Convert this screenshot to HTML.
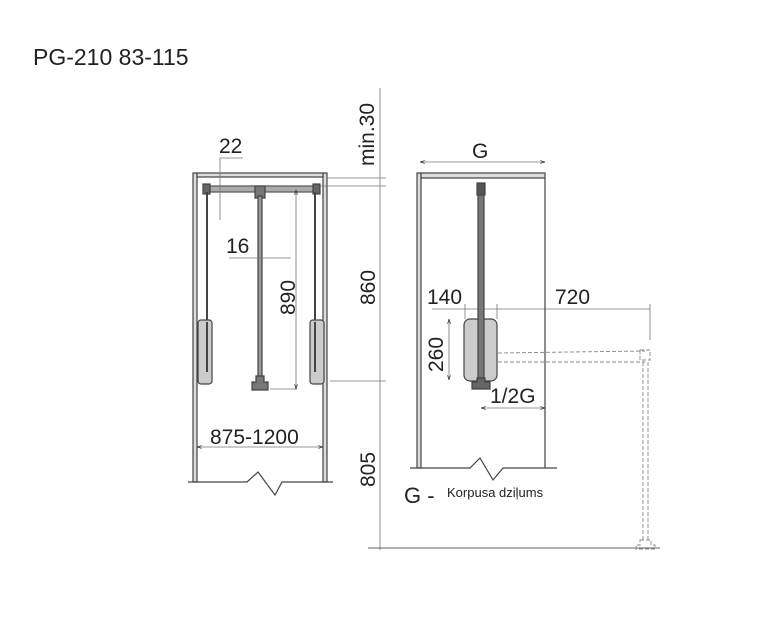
<!DOCTYPE html>
<html><head><style>body{margin:0;background:#fff}svg{display:block}text{font-family:"Liberation Sans",sans-serif;fill:#222}</style></head><body>
<svg width="761" height="630" viewBox="0 0 761 630" xmlns="http://www.w3.org/2000/svg">
<defs><marker id="a" viewBox="0 0 10 10" refX="10" refY="5" markerWidth="6" markerHeight="6" orient="auto-start-reverse"><path d="M0,2 L10,5 L0,8" fill="none" stroke="#333" stroke-width="1.5"/></marker></defs>
<text x="33" y="65" font-size="23">PG-210 83-115</text>
<g stroke="#444" fill="none" stroke-width="1.2">
<rect x="193" y="173" width="4" height="309" fill="#ddd"/>
<rect x="323" y="173" width="4" height="309" fill="#ddd"/>
<rect x="197" y="173" width="126" height="4" fill="#ddd"/>
<polyline points="188,482 247,482 258,472 275,495 282,482 333,482"/>
<rect x="206" y="186" width="112" height="6" fill="#aaa" stroke="#555"/>
<rect x="203" y="184" width="7" height="10" fill="#666"/>
<rect x="313" y="184" width="7" height="10" fill="#666"/>
<rect x="255" y="186" width="10" height="12" fill="#777"/>
<rect x="258" y="196" width="4" height="180" fill="#999"/>
<path d="M256,376h8v6h4v8h-16v-8h4z" fill="#777"/>
<line x1="207" y1="192" x2="207" y2="370" stroke-width="2"/>
<line x1="315" y1="192" x2="315" y2="370" stroke-width="2"/>
<rect x="198" y="320" width="14" height="64" rx="3" fill="#ccc"/>
<rect x="310" y="320" width="14" height="64" rx="3" fill="#ccc"/>
<line x1="207" y1="322" x2="207" y2="372" stroke-width="2"/>
<line x1="315" y1="322" x2="315" y2="372" stroke-width="2"/>
</g>
<g stroke="#777" stroke-width="0.8" fill="none">
<polyline points="243,158 220,158 220,220"/>
<line x1="229" y1="258" x2="291" y2="258"/>
<line x1="270" y1="389" x2="297" y2="389"/>
<line x1="296" y1="190" x2="296" y2="389" marker-start="url(#a)" marker-end="url(#a)"/>
<line x1="197" y1="447" x2="323" y2="447" marker-start="url(#a)" marker-end="url(#a)"/>
<line x1="380" y1="88" x2="380" y2="550"/>
<line x1="327" y1="178" x2="386" y2="178"/>
<line x1="320" y1="186" x2="386" y2="186"/>
<line x1="330" y1="381" x2="386" y2="381"/>
<line x1="368" y1="548" x2="660" y2="548" stroke="#333"/>
<line x1="420" y1="162" x2="545" y2="162" marker-start="url(#a)" marker-end="url(#a)"/>
<line x1="432" y1="309" x2="650" y2="309"/>
<line x1="449" y1="319" x2="449" y2="380" marker-start="url(#a)" marker-end="url(#a)"/>
<line x1="481" y1="408" x2="545" y2="408" marker-start="url(#a)" marker-end="url(#a)"/>
<line x1="465" y1="304" x2="465" y2="319"/><line x1="497" y1="304" x2="497" y2="319"/>
<line x1="650" y1="304" x2="650" y2="340"/>
</g>
<text x="219" y="153" font-size="21">22</text>
<text x="226" y="253" font-size="21">16</text>
<text x="374" y="166" font-size="21" transform="rotate(-90 374 166)">min.30</text>
<text x="295" y="315" font-size="21" transform="rotate(-90 295 315)">890</text>
<text x="375" y="305" font-size="21" transform="rotate(-90 375 305)">860</text>
<text x="375" y="487" font-size="21" transform="rotate(-90 375 487)">805</text>
<text x="210" y="444" font-size="21">875-1200</text>
<g stroke="#444" fill="none" stroke-width="1.2">
<rect x="417" y="173" width="4" height="295" fill="#ddd"/>
<rect x="421" y="173" width="124" height="5" fill="#ddd"/>
<line x1="545" y1="178" x2="545" y2="468"/>
<polyline points="410,468 470,468 480,458 493,480 503,468 557,468"/>
<rect x="464" y="319" width="33" height="62" rx="6" fill="#ccc"/>
<rect x="478" y="190" width="6" height="190" fill="#777"/>
<rect x="477" y="183" width="8" height="12" fill="#555"/>
<path d="M477,378h8v4h5v7h-18v-7h5z" fill="#666"/>
</g>
<g stroke="#888" stroke-width="0.9" stroke-dasharray="4,2" fill="none">
<line x1="498" y1="353" x2="645" y2="351"/>
<line x1="498" y1="362" x2="645" y2="362"/>
<rect x="640" y="350" width="10" height="10"/>
<line x1="643" y1="362" x2="643" y2="540"/>
<line x1="648" y1="362" x2="648" y2="540"/>
<path d="M640,540h11v5h4v4h-19v-4h4z"/>
</g>
<text x="472" y="158" font-size="21">G</text>
<text x="427" y="304" font-size="21">140</text>
<text x="555" y="304" font-size="21">720</text>
<text x="443" y="372" font-size="21" transform="rotate(-90 443 372)">260</text>
<text x="490" y="403" font-size="21">1/2G</text>
<text x="404" y="503" font-size="22">G -</text>
<text x="447" y="497" font-size="13">Korpusa dziļums</text>
</svg>
</body></html>
